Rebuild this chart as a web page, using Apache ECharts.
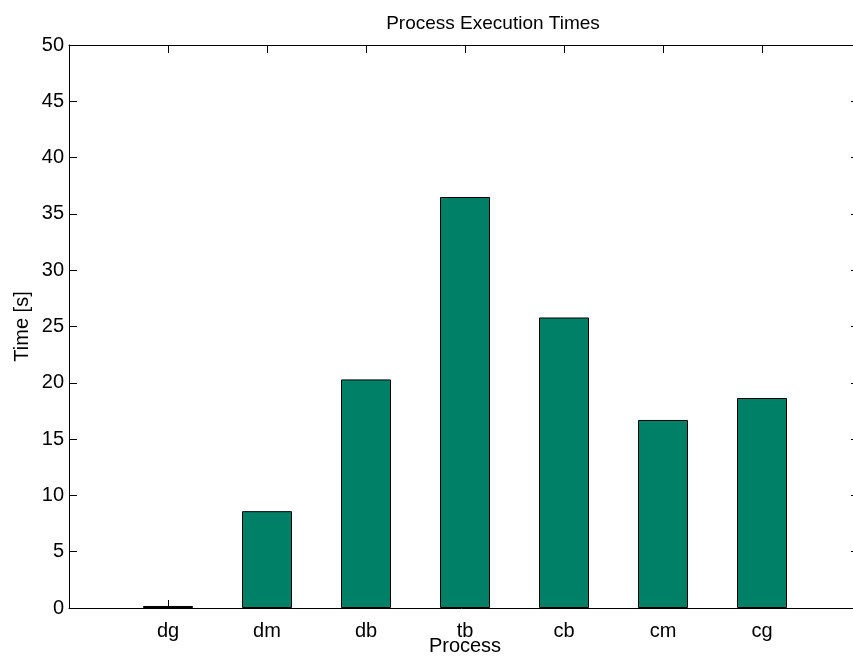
<!DOCTYPE html>
<html>
<head>
<meta charset="utf-8">
<script src="https://cdn.jsdelivr.net/npm/echarts@6/dist/echarts.min.js"></script>
<style>html,body{margin:0;padding:0;background:#fff}#c{width:853px;height:659px}</style>
</head>
<body>
<div id="c"></div>
<script>
var categories = ['dg', 'dm', 'db', 'tb', 'cb', 'cm', 'cg'];
var times = [0.18, 8.6, 20.3, 36.5, 25.8, 16.7, 18.65];
var yTicks = [0, 5, 10, 15, 20, 25, 30, 35, 40, 45, 50];

var font = '"Liberation Sans", Arial, Helvetica, sans-serif';
var chart = echarts.init(document.getElementById('c'), null, {renderer: 'canvas'});
var barData = categories.map(function (c, i) { return [i + 1, times[i]]; });

chart.setOption({
  animation: false,
  backgroundColor: '#ffffff',
  title: {
    text: 'Process Execution Times',
    left: 488, top: 9, textAlign: 'center',
    textStyle: {fontFamily: font, fontSize: 19, fontWeight: 'normal', color: '#000'}
  },
  grid: {left: 69, top: 45, right: -8, bottom: 51, containLabel: false, outerBoundsMode: 'none'},
  xAxis: [{
    type: 'value', min: 0, max: categories.length + 1, interval: 1,
    position: 'bottom',
    name: 'Process', nameLocation: 'middle', nameGap: 28, nameMoveOverlap: false,
    nameTextStyle: {fontFamily: font, fontSize: 20, color: '#000', verticalAlign: 'top'},
    axisLine: {show: true, onZero: false, lineStyle: {color: '#000', width: 1}},
    axisTick: {show: true, inside: true, length: 8, lineStyle: {color: '#000'}},
    axisLabel: {
      fontFamily: font, fontSize: 20, color: '#000', margin: 13,
      formatter: function (v) { return categories[v - 1] || ''; }
    },
    splitLine: {show: false}
  }, {
    type: 'value', min: 0, max: categories.length + 1, interval: 1,
    position: 'top',
    axisLine: {show: true, onZero: false, lineStyle: {color: '#000', width: 1}},
    axisTick: {show: true, inside: true, length: 8, lineStyle: {color: '#000'}},
    axisLabel: {show: false},
    splitLine: {show: false}
  }],
  yAxis: [{
    type: 'value', min: yTicks[0], max: yTicks[yTicks.length - 1], interval: 5,
    position: 'left',
    name: 'Time [s]', nameLocation: 'middle', nameGap: 37, nameRotate: 90, nameMoveOverlap: false,
    nameTextStyle: {fontFamily: font, fontSize: 20, color: '#000'},
    axisLine: {show: true, onZero: false, lineStyle: {color: '#000', width: 1}},
    axisTick: {show: true, inside: true, length: 8, lineStyle: {color: '#000'}},
    axisLabel: {fontFamily: font, fontSize: 20, color: '#000', margin: 5},
    splitLine: {show: false}
  }, {
    type: 'value', min: yTicks[0], max: yTicks[yTicks.length - 1], interval: 5,
    position: 'right',
    axisLine: {show: true, onZero: false, lineStyle: {color: '#000', width: 1}},
    axisTick: {show: true, inside: true, length: 10, lineStyle: {color: '#000'}},
    axisLabel: {show: false},
    splitLine: {show: false}
  }],
  series: [{
    type: 'bar',
    xAxisIndex: 0, yAxisIndex: 0,
    data: barData,
    barWidth: 50,
    itemStyle: {color: '#008066', borderColor: '#000', borderWidth: 1}
  }]
});
</script>
</body>
</html>
